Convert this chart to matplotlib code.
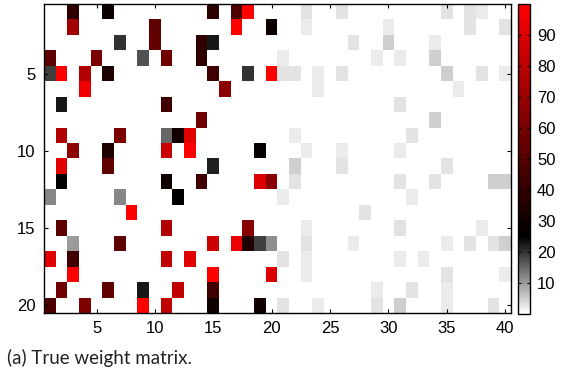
import numpy as np
import matplotlib
matplotlib.use("Agg")
import matplotlib.pyplot as plt
from matplotlib.colors import LinearSegmentedColormap

# true weight matrix: 20 rows x 40 columns, only non-zero cells listed
# (row, column, value), 1-based like the axis labels
row_idx = [1]*10 + [2]*8 + [3]*7 + [4]*9 + [5]*14 + [6]*4 + [7]*3 + [8]*2 + [9]*7 + [10]*8 \
    + [11]*6 + [12]*10 + [13]*5 + [14]*2 + [15]*6 + [16]*13 + [17]*8 + [18]*6 + [19]*8 + [20]*12
col_idx = [3, 6, 15, 17, 18, 23, 26, 35, 37, 38,
           3, 10, 17, 20, 23, 30, 37, 40,
           7, 10, 14, 15, 27, 30, 34,
           1, 5, 9, 11, 14, 21, 29, 31, 34,
           1, 2, 4, 6, 15, 18, 20, 21, 22, 24, 26, 35, 38, 40,
           4, 16, 24, 36,
           2, 11, 31,
           14, 34,
           2, 7, 11, 12, 13, 22, 32,
           3, 6, 11, 13, 19, 23, 26, 31,
           2, 6, 15, 22, 26, 35,
           2, 11, 14, 19, 20, 22, 31, 34, 39, 40,
           1, 7, 12, 21, 32,
           8, 28,
           2, 11, 18, 23, 31, 38,
           3, 7, 15, 17, 18, 19, 20, 23, 27, 35, 37, 39, 40,
           1, 3, 11, 13, 21, 23, 31, 33,
           3, 15, 20, 23, 35, 40,
           2, 6, 9, 12, 15, 29, 32, 35,
           1, 4, 9, 11, 15, 19, 21, 24, 29, 31, 35, 39]
weight = [39, 28, 39, 48, 100, 3, 3, 3, 3, 2,
          72, 53, 100, 28, 2, 2, 3, 3,
          20, 55, 39, 23, 3, 5, 2,
          53, 62, 17, 58, 39, 2, 2, 2, 5,
          19, 100, 77, 34, 44, 20, 100, 3, 3, 2, 3, 5, 3, 2,
          95, 65, 2, 2,
          23, 44, 3,
          58, 5,
          77, 62, 15, 30, 91, 2, 3,
          67, 34, 84, 100, 27, 2, 2, 2,
          91, 53, 22, 5, 3, 3,
          25, 30, 44, 90, 65, 3, 3, 3, 5, 5,
          12, 12, 25, 2, 2,
          100, 3,
          53, 77, 65, 2, 3, 2,
          10, 53, 85, 95, 34, 19, 11, 3, 2, 2, 3, 3, 5,
          91, 44, 82, 91, 3, 2, 2, 2,
          100, 100, 90, 2, 3, 2,
          58, 53, 23, 82, 44, 2, 3, 2,
          48, 62, 100, 82, 30, 30, 3, 2, 3, 5, 2, 3]

n_rows, n_cols = 20, 40
x_ticks = [5, 10, 15, 20, 25, 30, 35, 40]
y_ticks = [5, 10, 15, 20]
cbar_ticks = [10, 20, 30, 40, 50, 60, 70, 80, 90]

W = np.zeros((n_rows, n_cols))
W[np.array(row_idx) - 1, np.array(col_idx) - 1] = weight

# white -> black -> red map
cmap = LinearSegmentedColormap.from_list("wkr", [(0, "white"), (0.25, "black"), (1, "red")])

plt.rcParams['font.family'] = ['Liberation Sans', 'DejaVu Sans']

fig = plt.figure(figsize=(5.68, 3.71), dpi=100)
ax = fig.add_axes([44/568, 58/371, 467/568, 309/371])
im = ax.imshow(W, cmap=cmap, vmin=0, vmax=100, aspect='auto', interpolation='nearest',
               extent=[0.5, n_cols + 0.5, n_rows + 0.5, 0.5])
ax.set_xticks(x_ticks)
ax.set_yticks(y_ticks)
ax.tick_params(direction='in', top=True, right=True, length=3, width=0.8, labelsize=12, pad=6)
for s in ax.spines.values():
    s.set_linewidth(1.0)

cax = fig.add_axes([518/568, 57/371, 12/568, 310/371])
cb = fig.colorbar(im, cax=cax, ticks=cbar_ticks)
cax.tick_params(direction='in', left=True, right=True, length=2.5, width=0.8, labelsize=12, pad=5)
cb.outline.set_linewidth(1.0)

fig.text(7/568, 13/371, "(a) True weight matrix.", fontsize=13.5,
         family=['Lato', 'DejaVu Sans'], color='#222222', va='center')

fig.savefig("out.png", dpi=100)
